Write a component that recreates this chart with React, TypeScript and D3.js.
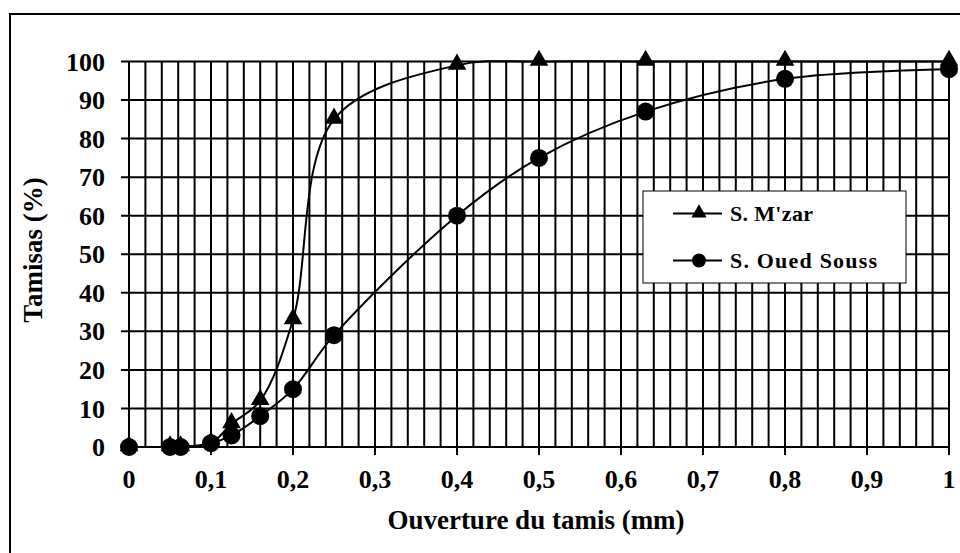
import React from "react";
import * as d3 from "d3";

// sieve openings (mm)
const sieves = [0, 0.05, 0.063, 0.1, 0.125, 0.16, 0.2, 0.25, 0.4, 0.5, 0.63, 0.8, 1];
// passing (%) for each sand
const mzar = [0, 0, 0, 1, 6, 12, 33, 85, 99, 100, 100, 100, 100];
const ouedSouss = [0, 0, 0, 1, 3, 8, 15, 29, 60, 75, 87, 95.5, 98];

const xTicks = [0, 0.1, 0.2, 0.3, 0.4, 0.5, 0.6, 0.7, 0.8, 0.9, 1];
const yTicks = [0, 10, 20, 30, 40, 50, 60, 70, 80, 90, 100];

const seriesNames = ["S. M'zar", "S. Oued Souss"];

const W = 960;
const H = 553;
const font = "Liberation Serif, DejaVu Serif, Times New Roman, serif";

const App = () => {
  const x = d3.scaleLinear().domain([0, 1]).range([129, 949]);
  const y = d3.scaleLinear().domain([0, 100]).range([447, 61.5]);

  const line = d3
    .line<[number, number]>()
    .x(d => x(d[0]))
    .y(d => y(d[1]))
    .curve(d3.curveCatmullRom);

  const ptsA: [number, number][] = sieves.map((s, i) => [s, mzar[i]]);
  const ptsB: [number, number][] = sieves.map((s, i) => [s, ouedSouss[i]]);

  const tri = d3.symbol().type(d3.symbolTriangle).size(150)();
  const triSmall = d3.symbol().type(d3.symbolTriangle).size(100)();

  const vGrid = d3.range(0, 51).map(i => i * 0.02);
  const txt = { fontFamily: font, fontWeight: 700 } as React.CSSProperties;

  return (
    <svg
      width={W}
      height={H}
      style={{ position: "absolute", left: 0, top: 0, background: "#fff" }}
    >
      <rect x={10} y={14} width={980} height={600} fill="#fff" stroke="#000" strokeWidth={2} />

      {/* grid */}
      <g stroke="#000" strokeWidth={2}>
        {yTicks.map(t => (
          <line key={"h" + t} x1={121} x2={x(1)} y1={y(t)} y2={y(t)} />
        ))}
        {vGrid.map((v, i) => (
          <line
            key={"v" + i}
            x1={x(v)}
            x2={x(v)}
            y1={y(100)}
            y2={i % 5 === 0 ? y(0) + 8 : y(0)}
          />
        ))}
      </g>

      {/* tick labels */}
      <g style={{ ...txt, fontSize: 26 }} fill="#000">
        {yTicks.map(t => (
          <text key={"yl" + t} x={105} y={y(t)} dy="0.35em" textAnchor="end">
            {t}
          </text>
        ))}
        {xTicks.map(t => (
          <text key={"xl" + t} x={x(t)} y={488} textAnchor="middle">
            {d3.format("")(t).replace(".", ",")}
          </text>
        ))}
      </g>

      <text x={536} y={529} textAnchor="middle" style={{ ...txt, fontSize: 27 }}>
        Ouverture du tamis (mm)
      </text>
      <text
        transform={`translate(42, 250) rotate(-90)`}
        textAnchor="middle"
        style={{ ...txt, fontSize: 27 }}
      >
        Tamisas (%)
      </text>

      {/* series */}
      <path d={line(ptsA) || ""} fill="none" stroke="#000" strokeWidth={2} />
      <path d={line(ptsB) || ""} fill="none" stroke="#000" strokeWidth={2} />
      {ptsA.map((p, i) => (
        <path key={"a" + i} d={tri || ""} transform={`translate(${x(p[0])},${y(p[1]) - 1})`} fill="#000" />
      ))}
      {ptsB.map((p, i) => (
        <circle key={"b" + i} cx={x(p[0])} cy={y(p[1])} r={9} fill="#000" />
      ))}

      {/* legend */}
      <g>
        <rect x={643} y={191} width={263} height={92} fill="#fff" stroke="#000" strokeWidth={1} />
        <line x1={673} x2={722} y1={213.5} y2={213.5} stroke="#000" strokeWidth={2} />
        <path d={triSmall || ""} transform="translate(699,213)" fill="#000" />
        <line x1={673} x2={722} y1={260.5} y2={260.5} stroke="#000" strokeWidth={2} />
        <circle cx={699} cy={260.5} r={7} fill="#000" />
        <g style={{ ...txt, fontSize: 22 }}>
          <text x={730} y={221} textLength={83} lengthAdjust="spacing">
            {seriesNames[0]}
          </text>
          <text x={730} y={268} textLength={147} lengthAdjust="spacing">
            {seriesNames[1]}
          </text>
        </g>
      </g>
    </svg>
  );
};

export default App;
